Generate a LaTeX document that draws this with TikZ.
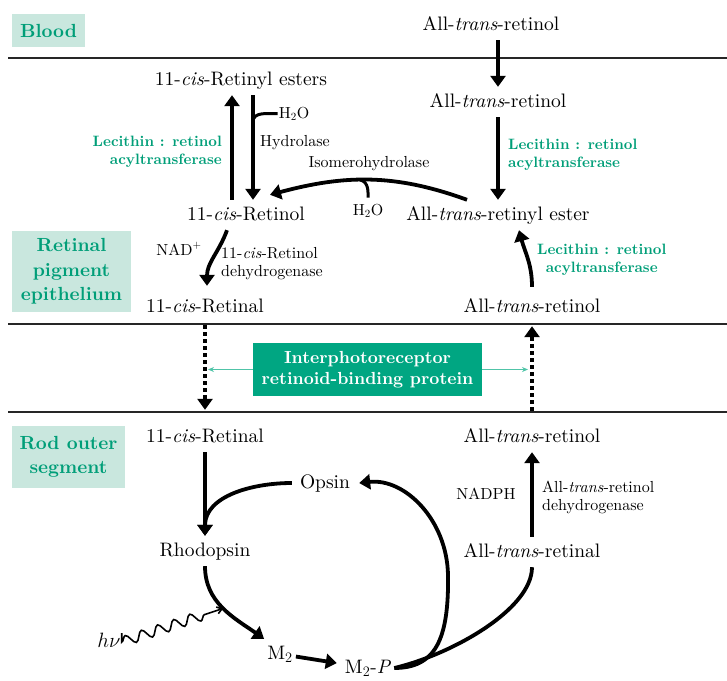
\documentclass[tikz,border=0pt]{standalone}
\usepackage{fontspec}
\setmainfont{lmroman10-regular.otf}[BoldFont=lmroman10-bold.otf, ItalicFont=lmroman10-italic.otf, BoldItalicFont=lmroman10-bolditalic.otf]
\usetikzlibrary{arrows.meta,decorations.pathmorphing}
\definecolor{leaf}{RGB}{0,158,120}
\definecolor{mint}{RGB}{201,231,222}
\definecolor{irbpfill}{RGB}{0,166,130}
\definecolor{tealline}{RGB}{80,196,168}
\begin{document}
\begin{tikzpicture}[x=1pt, y=1pt,
  compound/.style={font=\fontsize{19.5}{22}\selectfont, anchor=base, inner xsep=3pt, inner ysep=7pt, text height=13pt, text depth=3pt},
  enzyme/.style={font=\fontsize{16}{18}\selectfont, inner sep=1pt},
  lrat/.style={font=\fontsize{15}{17.5}\selectfont\bfseries, text=leaf, inner sep=1pt},
  region/.style={fill=mint, text=leaf, font=\fontsize{19}{24.5}\selectfont\bfseries, align=center, inner sep=0pt},
  flowline/.style={line width=3.8pt},
  flow/.style={flowline, -{Triangle[length=11pt,width=15pt]}},
  side/.style={line width=3pt},
  transport/.style={flow, dash pattern=on 3.5pt off 3.5pt},
  carrier/.style={tealline, line width=1.2pt, -{Stealth[length=6pt,width=5pt]}},
  photon/.style={line width=1.6pt, decorate, decoration={snake, amplitude=5pt, segment length=17pt, post length=12pt}, -{Straight Barb[length=5pt,width=7pt]}},
  layer/.style={line width=1.8pt, black!85}]
\useasboundingbox (0,0) rectangle (727,-680);

\draw [layer] (8,-58) -- (727,-58);
\draw [layer] (8,-324) -- (727,-324);
\draw [layer] (8,-412) -- (727,-412);

\node (blood) at (48.5,-30.5) [region, minimum width=73pt, minimum height=33pt] {Blood};
\node (rpe) at (71.5,-271.5) [region, minimum width=119pt, minimum height=81pt] {Retinal\\pigment\\epithelium};
\node (ros) at (68.5,-457) [region, minimum width=113pt, minimum height=62pt] {Rod outer\\segment};

\node (plasma) at (491,-30) [compound] {All-\textit{trans}-retinol};
\node (atol) at (498,-107) [compound] {All-\textit{trans}-retinol};
\node (ester) at (498,-220) [compound] {All-\textit{trans}-retinyl ester};
\node (cesters) at (241,-85) [compound] {11-\textit{cis}-Retinyl esters};
\node (col) at (246,-220) [compound] {11-\textit{cis}-Retinol};
\node (cal) at (205,-312) [compound] {11-\textit{cis}-Retinal};
\node (atol2) at (532,-312) [compound] {All-\textit{trans}-retinol};
\node (cal2) at (205,-442) [compound] {11-\textit{cis}-Retinal};
\node (atol3) at (532,-442) [compound] {All-\textit{trans}-retinol};
\node (opsin) at (325,-488) [compound] {Opsin};
\node (rho) at (205,-556) [compound] {Rhodopsin};
\node (atal) at (532,-557) [compound] {All-\textit{trans}-retinal};
\node (meta) at (280,-659) [compound] {M$_2$};
\node (metap) at (368,-673) [compound] {M$_2$-\textit{P}};
\node (light) at (109,-647) [compound, inner xsep=1pt] {$h\nu$};

\node (water) at (294,-118) [enzyme, anchor=base] {H$_2$O};
\node (hydro) at (259,-146) [enzyme, anchor=base west] {Hydrolase};
\node (iso) at (369,-167) [enzyme, anchor=base] {Isomerohydrolase};
\node (water2) at (368,-215) [enzyme, anchor=base] {H$_2$O};
\node (nad) at (179,-255) [enzyme, anchor=base] {NAD$^+$};
\node (cdh) at (220,-264) [enzyme, anchor=west, align=left] {11-\textit{cis}-Retinol\\dehydrogenase};
\node (nadph) at (486,-499) [enzyme, anchor=base] {NADPH};
\node (adh) at (541,-497) [enzyme, anchor=west, align=left] {All-\textit{trans}-retinol\\dehydrogenase};

\node (lrat1) at (223,-152) [lrat, anchor=east, align=right] {Lecithin : retinol\\acyltransferase};
\node (lrat2) at (507,-155) [lrat, anchor=west, align=left] {Lecithin : retinol\\acyltransferase};
\node (lrat3) at (536,-260) [lrat, anchor=west, align=center] {Lecithin : retinol\\acyltransferase};

\node (irbp) at (367.5,-369.5) [fill=irbpfill, text=white, font=\fontsize{17.5}{20.5}\selectfont\bfseries, align=center, minimum width=229pt, minimum height=53pt, inner sep=0pt] {Interphotoreceptor\\retinoid-binding protein};

\draw [flow] (plasma.south -| atol) -- (atol);
\draw [flow] (atol) -- (ester);
\draw [flow] ([xshift=-14pt]col.north) -- ([xshift=-14pt]col.north |- cesters.south);
\draw [flow] ([xshift=7pt]col.north |- cesters.south) -- ([xshift=7pt]col.north);
\draw [side] (water.west) to[out=180, in=90] ([xshift=7pt]col.north |- water.south);
\draw [flow] ([xshift=-31pt]ester.north) to[out=160, in=15] coordinate[pos=0.55] (isojoin) ([shift={(24pt,5pt)}]col.north);
\draw [side, shorten <=5pt] (water2.north) to[out=90, in=-10] (isojoin);
\draw [flow] ([xshift=-19pt]col.south) to[out=-110, in=90] ([shift={(2pt,6pt)}]cal.north);
\draw [flow] ([yshift=5pt]atol2.north) to[out=90, in=-75] ([xshift=21pt]ester.south);

\draw [transport, shorten <=3pt, shorten >=12pt] (cal) -- (cal2);
\draw [transport, shorten <=11pt, shorten >=4pt] (atol3) -- (atol2);
\draw [carrier, shorten >=3pt] (irbp.west) -- (irbp.west -| cal2);
\draw [carrier, shorten >=4pt] (irbp.east) -- (irbp.east -| atol3);

\draw [flow] (cal2) -- (rho);
\draw [flow] ([xshift=-5pt]opsin.west) to[out=180, in=90] (rho.north);
\draw [flow] (rho.south) to[out=-90, in=145] coordinate[pos=0.5] (hit) (meta.north west);
\draw [photon, shorten <=9pt] (light.east) -- (hit);
\draw [flow, shorten >=5pt] (meta) -- (metap);
\draw [flow] (metap.east) .. controls (435,-668) and (449,-640) .. (448,-575) .. controls (447,-520) and (405,-478) .. ([xshift=6pt]opsin.east);
\draw [flowline] (metap.east) .. controls (450,-655) and (532,-610) .. (atal.south);
\draw [flow] (atal) -- (atol3);
\end{tikzpicture}
\end{document}
